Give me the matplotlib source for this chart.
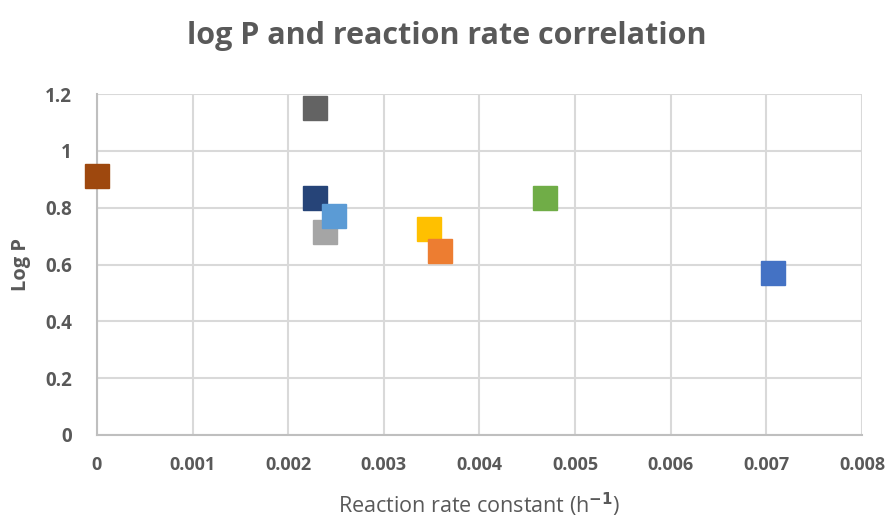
import matplotlib
matplotlib.use("Agg")
import matplotlib.pyplot as plt

plt.rcParams['font.family'] = ['Open Sans', 'DejaVu Sans']

# data (drawing order: later on top)
rate_k = [0.00707, 0.00347, 0.00238, 0.00359, 0.00248, 0.00469, 0.00228, 0.0, 0.00228]
log_p = [0.572, 0.724, 0.713, 0.646, 0.770, 0.836, 0.836, 0.910, 1.150]
colors = ['#4472C4', '#FFC000', '#A5A5A5', '#ED7D31', '#5B9BD5', '#70AD47', '#264478', '#9E480E', '#636363']
order = [0, 1, 3, 2, 6, 4, 5, 7, 8]

xticks = [0, 0.001, 0.002, 0.003, 0.004, 0.005, 0.006, 0.007, 0.008]
xticklabels = ['0', '0.001', '0.002', '0.003', '0.004', '0.005', '0.006', '0.007', '0.008']
yticks = [0, 0.2, 0.4, 0.6, 0.8, 1.0, 1.2]
yticklabels = ['0', '0.2', '0.4', '0.6', '0.8', '1', '1.2']

fig = plt.figure(figsize=(8.93, 5.2), dpi=100)
ax = fig.add_axes([0.1086, 0.1635, 0.8567, 0.6555])

for i in order:
    ax.plot(rate_k[i], log_p[i], marker='s', markersize=17, color=colors[i],
            markeredgecolor=colors[i], linestyle='none', clip_on=False, zorder=3)

ax.set_xlim(0, 0.008)
ax.set_ylim(0, 1.2)
ax.set_xticks(xticks)
ax.set_xticklabels(xticklabels)
ax.set_yticks(yticks)
ax.set_yticklabels(yticklabels)
ax.grid(True, color='#D9D9D9', linewidth=1.5, zorder=0)
ax.set_axisbelow(True)
for s in ['top', 'right']:
    ax.spines[s].set_visible(False)
for s in ['left', 'bottom']:
    ax.spines[s].set_color('#BFBFBF')
    ax.spines[s].set_linewidth(1.5)
ax.tick_params(axis='x', length=0, labelsize=13, labelcolor='#595959', pad=15)
ax.tick_params(axis='y', length=0, labelsize=13.5, labelcolor='#595959', pad=18)
for lab in ax.get_xticklabels() + ax.get_yticklabels():
    lab.set_fontweight('bold')

ax.set_xlabel('Reaction rate constant (h$^{\\mathbf{-1}}$)', fontsize=15.5, color='#595959', labelpad=12)
ax.set_ylabel('Log P', fontsize=14.5, color='#595959', fontweight='bold', labelpad=10)
fig.suptitle('log P and reaction rate correlation', fontsize=22, fontweight='bold',
             color='#595959', y=0.96)

fig.savefig('out.png', dpi=100)
